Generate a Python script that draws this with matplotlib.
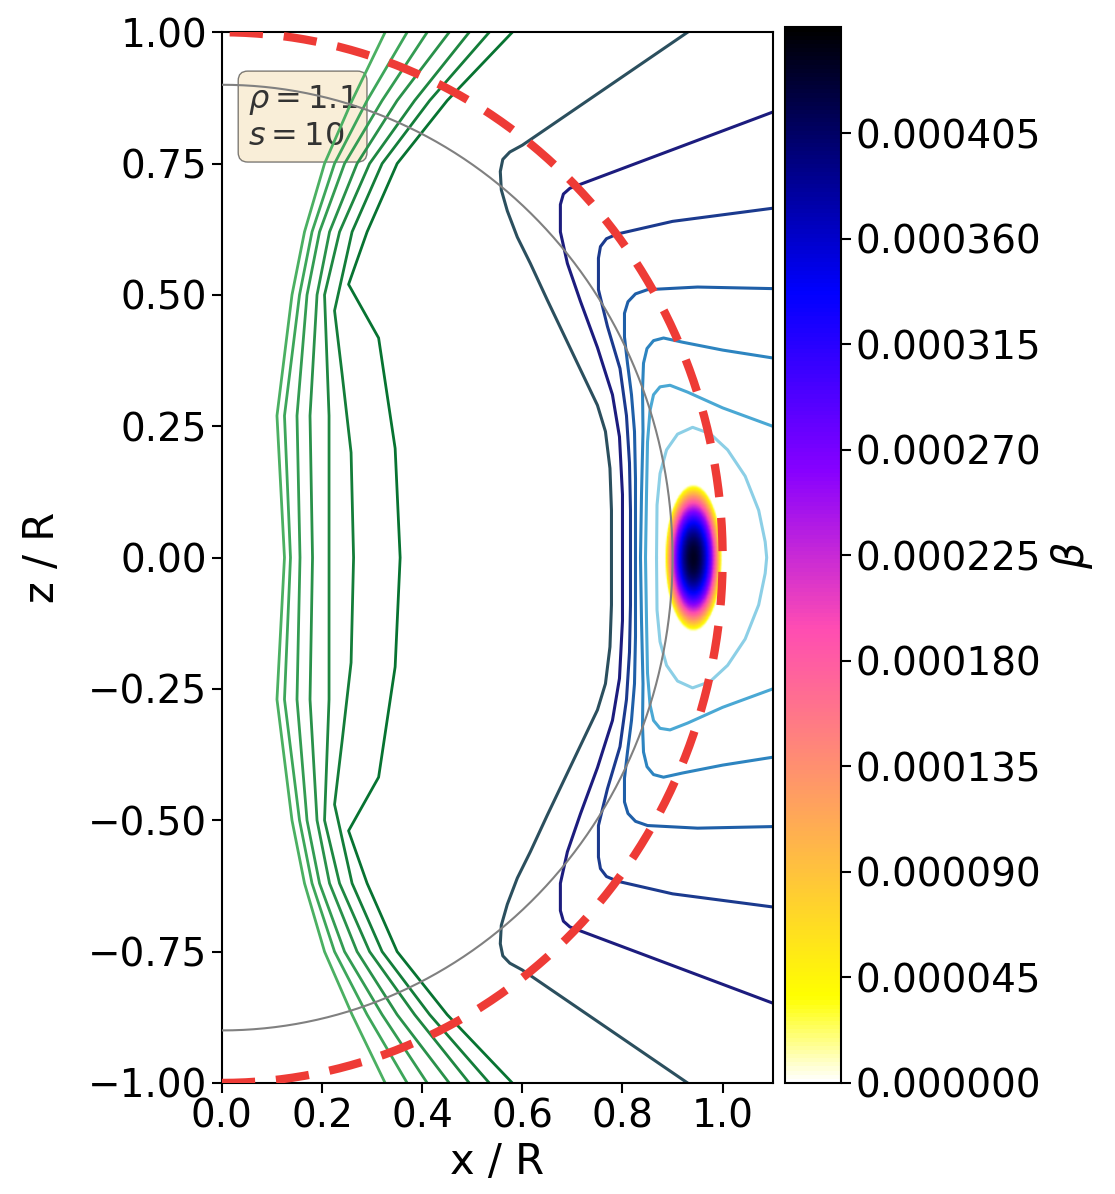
import numpy as np
import matplotlib.pyplot as plt
from matplotlib import cm, colors

# ---- beta blob (parameters)
beta_peak = 0.000435
beta_x0, beta_z0 = 0.942, 0.0
beta_ax, beta_az = 0.057, 0.14
beta_vmax = 0.00045
cbar_ticks = [0.0, 0.000045, 0.00009, 0.000135, 0.00018, 0.000225,
              0.00027, 0.000315, 0.00036, 0.000405]

# ---- green lines, upper half (x, z), mirrored below
green_lines = [
    [(0.326, 1.0), (0.26, 0.87), (0.205, 0.75), (0.165, 0.62), (0.14, 0.5), (0.11, 0.27), (0.125, 0.0)],
    [(0.37, 1.0), (0.29, 0.87), (0.225, 0.75), (0.18, 0.62), (0.155, 0.5), (0.125, 0.27), (0.137, 0.0)],
    [(0.41, 1.0), (0.32, 0.87), (0.245, 0.75), (0.195, 0.62), (0.17, 0.5), (0.15, 0.27), (0.156, 0.0)],
    [(0.454, 1.0), (0.35, 0.87), (0.27, 0.75), (0.215, 0.62), (0.19, 0.5), (0.176, 0.27), (0.181, 0.0)],
    [(0.494, 1.0), (0.385, 0.87), (0.295, 0.75), (0.235, 0.62), (0.205, 0.5), (0.214, 0.27), (0.214, 0.0)],
    [(0.534, 1.0), (0.415, 0.87), (0.32, 0.75), (0.26, 0.62), (0.225, 0.47), (0.24, 0.35),
     (0.258, 0.2), (0.263, 0.0)],
    [(0.58, 1.0), (0.45, 0.87), (0.35, 0.75), (0.29, 0.62), (0.253, 0.52), (0.313, 0.418),
     (0.346, 0.208), (0.356, 0.0)],
]

# ---- blue contours, upper half (x, z), mirrored below
blue_lines = [
    [(0.93, 1.0), (0.60, 0.785), (0.575, 0.772), (0.561, 0.758), (0.556, 0.735), (0.558, 0.70),
     (0.57, 0.66), (0.59, 0.61), (0.616, 0.56), (0.65, 0.49), (0.69, 0.41), (0.725, 0.34),
     (0.75, 0.29), (0.766, 0.24), (0.775, 0.17), (0.778, 0.09), (0.778, 0.0)],
    [(1.1, 0.848), (0.72, 0.712), (0.695, 0.703), (0.682, 0.692), (0.676, 0.672), (0.676, 0.62),
     (0.69, 0.56), (0.716, 0.488), (0.75, 0.40), (0.78, 0.31), (0.794, 0.23), (0.80, 0.12),
     (0.80, 0.0)],
    [(1.1, 0.665), (0.9, 0.64), (0.79, 0.616), (0.768, 0.607), (0.756, 0.592), (0.752, 0.57),
     (0.752, 0.51), (0.77, 0.44), (0.795, 0.36), (0.808, 0.27), (0.814, 0.18), (0.816, 0.09),
     (0.816, 0.0)],
    [(1.1, 0.512), (0.95, 0.515), (0.85, 0.51), (0.826, 0.502), (0.811, 0.487), (0.804, 0.465),
     (0.804, 0.42), (0.81, 0.37), (0.818, 0.31), (0.824, 0.24), (0.826, 0.15), (0.826, 0.0)],
    [(1.1, 0.38), (1.0, 0.395), (0.92, 0.41), (0.882, 0.418), (0.862, 0.413), (0.849, 0.398),
     (0.842, 0.37), (0.84, 0.32), (0.841, 0.24), (0.838, 0.12), (0.836, 0.0)],
    [(1.1, 0.25), (1.0, 0.285), (0.93, 0.315), (0.895, 0.328), (0.875, 0.325), (0.862, 0.31),
     (0.855, 0.28), (0.85, 0.22), (0.848, 0.12), (0.846, 0.0)],
    [(0.868, 0.0), (0.869, 0.1), (0.875, 0.16), (0.888, 0.205), (0.91, 0.235), (0.94, 0.248),
     (0.975, 0.236), (1.01, 0.205), (1.045, 0.155), (1.072, 0.09), (1.085, 0.03), (1.088, 0.0)],
]
blue_colors = ['#2b4f5e', '#1c1c7e', '#1b3a8e', '#1f5fa8', '#2d84c0', '#4aa8d4', '#8ccfe6']


def mirror(pts):
    pts = np.array(pts)
    low = pts[::-1].copy()
    low[:, 1] *= -1
    if pts[-1, 1] == 0:
        low = low[1:]
    return np.vstack([pts, low])


fig = plt.figure(figsize=(11.15, 11.94), dpi=100)
ax = fig.add_axes([0.199, 0.093, 0.494, 0.88])
cax = fig.add_axes([0.704, 0.093, 0.050, 0.884])

xg = np.linspace(0, 1.1, 441)
zg = np.linspace(-1, 1, 801)
X, Z = np.meshgrid(xg, zg)
beta = beta_peak * np.clip(1 - ((X - beta_x0) / beta_ax) ** 2 - ((Z - beta_z0) / beta_az) ** 2, 0, None)
norm = colors.Normalize(vmin=0, vmax=beta_vmax)
ax.pcolormesh(X, Z, beta, cmap='gnuplot2_r', norm=norm, shading='gouraud', alpha=0.75, zorder=0)

gcols = plt.cm.Greens(np.linspace(0.6, 0.85, len(green_lines)))
for pts, c in zip(green_lines, gcols):
    p = mirror(pts)
    ax.plot(p[:, 0], p[:, 1], color=c, lw=2.0, zorder=2)

for pts, c in zip(blue_lines, blue_colors):
    p = mirror(pts)
    ax.plot(p[:, 0], p[:, 1], color=c, lw=2.2, zorder=2)

th = np.linspace(-np.pi / 2, np.pi / 2, 400)
ax.plot(0.9 * np.cos(th), 0.9 * np.sin(th), color='gray', lw=1.5, zorder=3)
ax.plot(1.0 * np.cos(th), 1.0 * np.sin(th), color='#ee3b36', lw=6, ls=(0, (4, 2.5)), zorder=4)

ax.text(0.047, 0.952, '$\\rho = 1.1$\n$s = 10$', transform=ax.transAxes, fontsize=23,
        va='top', ha='left', color='#333333',
        bbox=dict(boxstyle='round', facecolor='wheat', alpha=0.5), zorder=1)

ax.set_xlim(0, 1.1)
ax.set_ylim(-1, 1)
ax.set_xticks([0.0, 0.2, 0.4, 0.6, 0.8, 1.0])
ax.set_yticks([-1.0, -0.75, -0.5, -0.25, 0.0, 0.25, 0.5, 0.75, 1.0])
ax.set_xticklabels(['0.0', '0.2', '0.4', '0.6', '0.8', '1.0'])
ax.set_yticklabels(['\u22121.00', '\u22120.75', '\u22120.50', '\u22120.25', '0.00',
                    '0.25', '0.50', '0.75', '1.00'])
ax.tick_params(labelsize=28, width=1.5, length=7)
for s in ax.spines.values():
    s.set_linewidth(1.5)
ax.set_xlabel('x / R', fontsize=30, labelpad=4)
ax.set_ylabel('z / R', fontsize=30, labelpad=18)

sm = cm.ScalarMappable(norm=norm, cmap='gnuplot2_r')
cb = fig.colorbar(sm, cax=cax, ticks=cbar_ticks)
cb.ax.set_yticklabels(['%.6f' % t for t in cbar_ticks])
cb.ax.tick_params(labelsize=28, width=1.5, length=7)
cb.outline.set_linewidth(1.5)
cb.set_label('$\\beta$', fontsize=30, labelpad=6)

fig.savefig('out.png', dpi=100)
